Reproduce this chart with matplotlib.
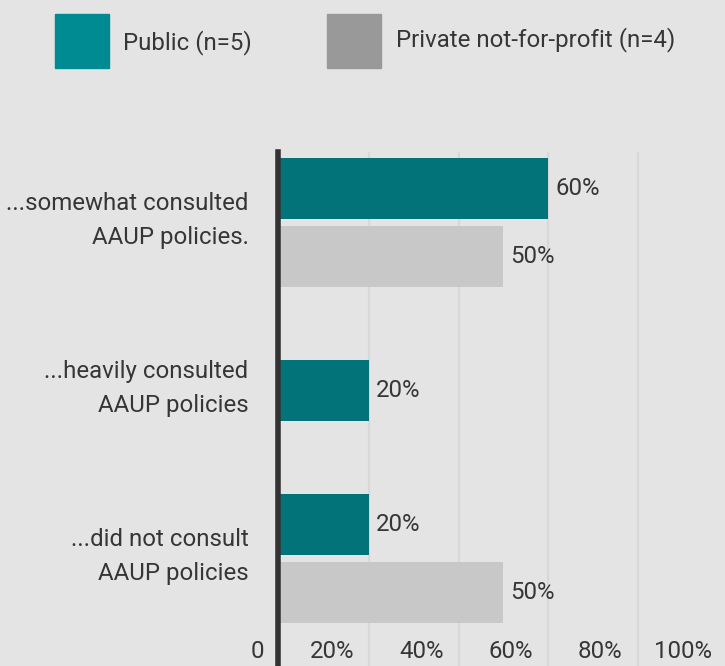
import matplotlib.pyplot as plt
import matplotlib.transforms as mtransforms
from matplotlib.patches import Rectangle
from matplotlib.transforms import offset_copy

# data
categories = ['...somewhat consulted\nAAUP policies.',
              '...heavily consulted\nAAUP policies',
              '...did not consult\nAAUP policies']
public = [60, 20, 20]
private = [50, None, 50]   # no private answers for the middle group
series_names = ['Public (n=5)', 'Private not-for-profit (n=4)']
xticks = [0, 20, 40, 60, 80, 100]
xtick_labels = ['0', '20%', '40%', '60%', '80%', '100%']

bg = '#e4e4e4'
teal_bar = '#03737a'
teal_leg = '#008b93'
gray_bar = '#c8c8c8'
gray_leg = '#999999'
txt = '#363636'
fs = 17.3

plt.rcParams['font.family'] = ['Roboto', 'DejaVu Sans']

W, H = 725, 666
fig = plt.figure(figsize=(W / 100, H / 100), dpi=100, facecolor=bg)

# axes in pixel coords: x 0..100 -> 279.5..727, top 152, bottom 666
left, right, top, bottom = 279.5, 727, 152, 666
ax = fig.add_axes([left / W, 1 - bottom / H, (right - left) / W, (bottom - top) / H])
ax.set_facecolor(bg)

spacing = 168.0
bh = 61 / spacing
off = 34 / spacing
ys = list(range(len(categories)))

for x in xticks[1:]:
    ax.axvline(x, color='#d8d8d8', lw=1.6, zorder=0)

val_tr = offset_copy(ax.transData, fig=fig, x=7, y=0, units='dots')
for y, pu, pr in zip(ys, public, private):
    if pr is None:
        y_pu = y
    else:
        y_pu = y - off
        ax.barh(y + off, pr, height=bh, color=gray_bar, zorder=2)
        ax.text(pr, y + off, f'{pr}%', ha='left', va='center', fontsize=fs, color=txt, transform=val_tr)
    ax.barh(y_pu, pu, height=bh, color=teal_bar, zorder=2)
    ax.text(pu, y_pu, f'{pu}%', ha='left', va='center', fontsize=fs, color=txt, transform=val_tr)

ax.axvline(-0.4, color='#333333', lw=4, zorder=3, clip_on=False)

# category labels
cat_tr = offset_copy(ax.transData, fig=fig, x=-31, y=2, units='dots')
for y, c in zip(ys, categories):
    ax.text(0, y, c, ha='right', va='center', fontsize=fs, color=txt, linespacing=1.62,
            transform=cat_tr)

# x tick labels, right aligned just left of each gridline
tr = mtransforms.blended_transform_factory(ax.transData, ax.transAxes)
tick_tr = offset_copy(tr, fig=fig, x=-15, y=14, units='dots')
for x, lab in zip(xticks, xtick_labels):
    ax.text(x, 0, lab, ha='right', va='center', fontsize=fs, color=txt, transform=tick_tr)

ax.set_xlim(0, 100)
ax.set_ylim(2 + 107 / spacing, -70.5 / spacing)
ax.set_xticks([])
ax.set_yticks([])
for s in ax.spines.values():
    s.set_visible(False)

# legend
fig.patches.append(Rectangle((55 / W, 1 - 68 / H), 54 / W, 54 / H, transform=fig.transFigure,
                             color=teal_leg, zorder=5))
fig.text(123 / W, 1 - 43 / H, series_names[0], ha='left', va='center', fontsize=fs, color=txt)
fig.patches.append(Rectangle((327 / W, 1 - 68 / H), 54 / W, 54 / H, transform=fig.transFigure,
                             color=gray_leg, zorder=5))
fig.text(396 / W, 1 - 40 / H, series_names[1], ha='left', va='center', fontsize=fs, color=txt)

fig.savefig('out.png', dpi=100, facecolor=bg)
